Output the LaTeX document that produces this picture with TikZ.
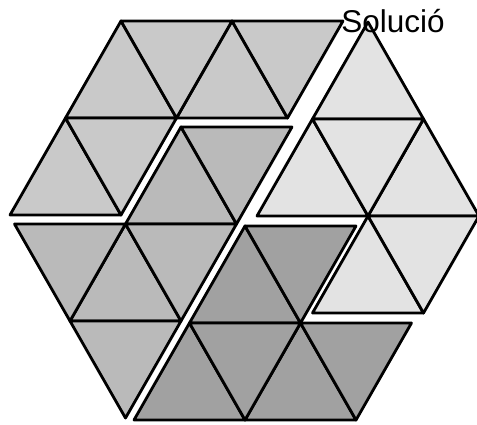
\documentclass[tikz,border=0pt]{standalone}
\usepackage{fontspec}
\setmainfont{Liberation Sans}
\definecolor{fillA}{gray}{0.79}
\definecolor{fillB}{gray}{0.73}
\definecolor{fillC}{gray}{0.89}
\definecolor{fillD}{gray}{0.63}
% one small triangle, pointing up (apex given) or down (top left corner given)
% grid units: half a side across, one row down
\newcommand{\uptri}[3]{\filldraw[#1] ({#2*55.5},{#3*97}) -- ++(-55.5,97) -- ++(111,0) -- cycle;}
\newcommand{\dntri}[3]{\filldraw[#1] ({#2*55.5},{#3*97}) -- ++(111,0) -- ++(-55.5,97) -- cycle;}
\begin{document}
\begin{tikzpicture}[x=1pt, y=-1pt,
    tri/.style={draw=black, line width=2.8pt, line join=round},
    pieceA/.style={tri, fill=fillA},
    pieceB/.style={tri, fill=fillB},
    pieceC/.style={tri, fill=fillC},
    pieceD/.style={tri, fill=fillD}]
  \useasboundingbox (0,0) rectangle (477,425);
  % top left piece
  \begin{scope}[shift={(10,21)}]
    \foreach \i/\j in {2/0, 4/0, 1/1} {\uptri{pieceA}{\i}{\j}}
    \foreach \i/\j in {2/0, 4/0, 1/1} {\dntri{pieceA}{\i}{\j}}
  \end{scope}
  % left piece
  \begin{scope}[shift={(14.5,30)}]
    \foreach \i/\j in {3/1, 2/2} {\uptri{pieceB}{\i}{\j}}
    \foreach \i/\j in {3/1, 0/2, 2/2, 1/3} {\dntri{pieceB}{\i}{\j}}
  \end{scope}
  % right piece
  \begin{scope}[shift={(35,22)}]
    \foreach \i/\j in {6/0, 5/1, 7/1, 6/2} {\uptri{pieceC}{\i}{\j}}
    \foreach \i/\j in {5/1, 6/2} {\dntri{pieceC}{\i}{\j}}
  \end{scope}
  % bottom piece
  \begin{scope}[shift={(23,32)}]
    \foreach \i/\j in {4/2, 3/3, 5/3} {\uptri{pieceD}{\i}{\j}}
    \foreach \i/\j in {4/2, 3/3, 5/3} {\dntri{pieceD}{\i}{\j}}
  \end{scope}
  \node[font=\fontsize{31.5}{31.5}\selectfont, anchor=base, inner sep=0pt] (title) at (393,33) {Solució};
\end{tikzpicture}
\end{document}
